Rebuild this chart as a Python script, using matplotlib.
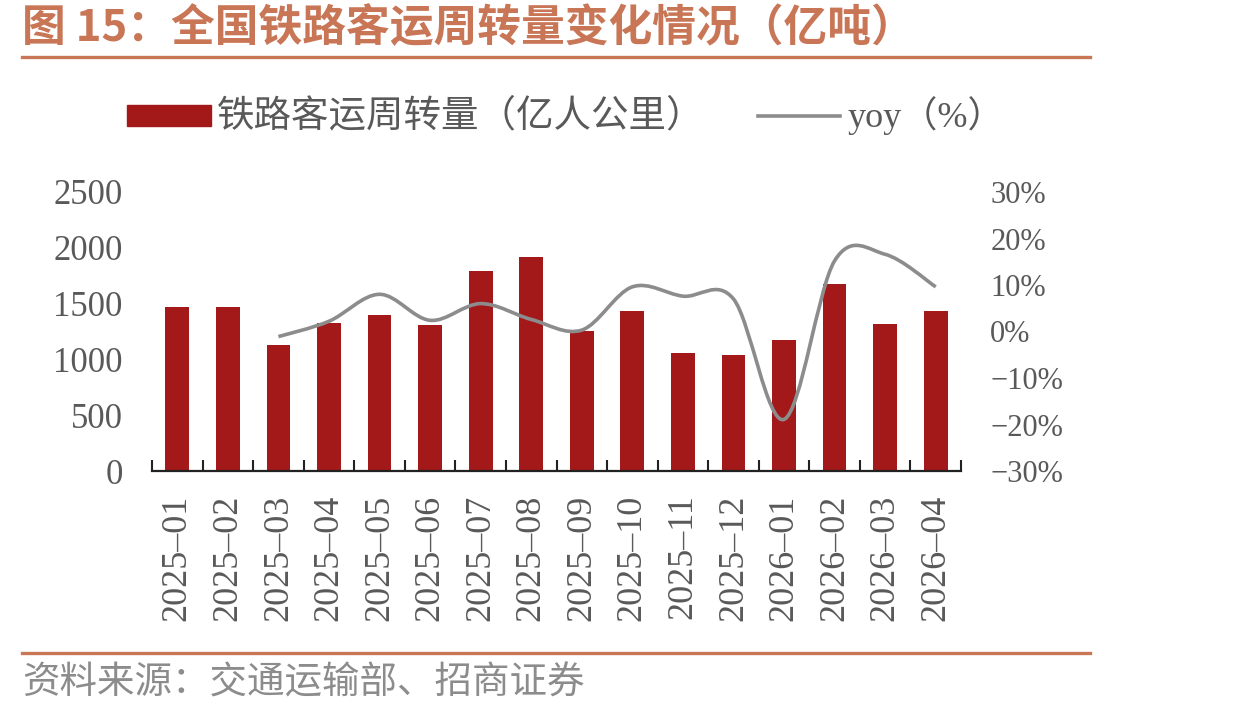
import matplotlib
matplotlib.use("Agg")
import matplotlib.pyplot as plt
import numpy as np
from matplotlib.path import Path
from matplotlib.patches import PathPatch, Rectangle
from matplotlib.lines import Line2D

months = ["2025-01", "2025-02", "2025-03", "2025-04", "2025-05", "2025-06",
          "2025-07", "2025-08", "2025-09", "2025-10", "2025-11", "2025-12",
          "2026-01", "2026-02", "2026-03", "2026-04"]
turnover = [1466, 1466, 1125, 1326, 1394, 1308, 1789, 1918,
            1251, 1430, 1056, 1035, 1176, 1679, 1320, 1430]
# yoy starts from 2025-03
yoy_start = 2
yoy = [-1.1, 2.2, 8.0, 2.4, 6.0, 2.6, 0.3, 9.6, 7.6, 7.0, -18.9, 15.2, 16.6, 9.6]

left_ticks = [0, 500, 1000, 1500, 2000, 2500]
right_ticks = [-30, -20, -10, 0, 10, 20, 30]

CJK = "Noto Sans CJK SC"
plt.rcParams["font.family"] = ["Liberation Serif", CJK]

bar_color = "#A31818"
line_color = "#8C8C8C"
text_gray = "#595959"
rule_color = "#C87656"

W, H = 1247, 714
fig = plt.figure(figsize=(W / 100, H / 100), dpi=100)

def fx(px):
    return px / W

def fy(py):
    return 1 - py / H

ax = fig.add_axes([fx(152), fy(471), fx(961 - 152), (471 - 192) / H])
x = np.arange(len(months))
ax.bar(x, turnover, width=0.47, color=bar_color, zorder=2)
ax.set_xlim(-0.5, len(months) - 0.5)
ax.set_ylim(0, 2500)
ax.set_yticks(left_ticks)
ax.set_yticklabels([str(v) for v in left_ticks], fontsize=25, color=text_gray)
ax.set_xticks(x)
ax.set_xticklabels([m.replace("-", "–") for m in months], rotation=90,
                   fontsize=26, color=text_gray)
ax.set_xticks(np.arange(-0.5, len(months), 1), minor=True)
ax.tick_params(axis="x", which="major", length=0, pad=17)
ax.tick_params(axis="x", which="minor", direction="in", length=8, width=1.5, color="#222222")
ax.tick_params(axis="y", length=0, pad=21)
for s in ["left", "right", "top"]:
    ax.spines[s].set_visible(False)
ax.spines["bottom"].set_linewidth(1.6)
ax.spines["bottom"].set_color("#222222")

ax2 = ax.twinx()
ax2.set_ylim(-30, 30)
ax2.set_yticks(right_ticks)
ax2.set_yticklabels([f"{v}%".replace("-", "−") for v in right_ticks], fontsize=22, color=text_gray)
ax2.tick_params(axis="y", length=0, pad=21)
for s in ax2.spines.values():
    s.set_visible(False)

# smoothed yoy line (Excel-style cubic Bezier through the points)
pts = np.column_stack([x[yoy_start:], yoy]).astype(float)
ext = np.vstack([pts[0], pts, pts[-1]])
verts = [pts[0]]
codes = [Path.MOVETO]
for i in range(len(pts) - 1):
    p0, p1, p2, p3 = ext[i], ext[i + 1], ext[i + 2], ext[i + 3]
    verts += [p1 + (p2 - p0) / 6, p2 - (p3 - p1) / 6, p2]
    codes += [Path.CURVE4] * 3
ax2.add_patch(PathPatch(Path(verts, codes), fill=False, edgecolor=line_color,
                        lw=2.6, capstyle="butt", joinstyle="round"))

# title and rules
fig.text(fx(22), fy(28), "图 15：全国铁路客运周转量变化情况（亿吨）", family=CJK,
         fontsize=31.5, fontweight="bold", color=rule_color, va="center", ha="left")
fig.add_artist(Line2D([fx(22), fx(1090)], [fy(57), fy(57)], color=rule_color, lw=2.4))
fig.add_artist(Line2D([fx(22), fx(1090)], [fy(653), fy(653)], color=rule_color, lw=2.4))
fig.text(fx(22), fy(683), "资料来源：交通运输部、招商证券", family=CJK,
         fontsize=27, color="#8C8C8C", va="center", ha="left")

# legend
fig.add_artist(Rectangle((fx(127), fy(126)), fx(84), 21 / H, color=bar_color))
fig.text(fx(217), fy(116), "铁路客运周转量（亿人公里）", family=CJK,
         fontsize=27, color=text_gray, va="center", ha="left")
fig.add_artist(Line2D([fx(758), fx(840)], [fy(116), fy(116)], color=line_color, lw=2.6))
fig.text(fx(847), fy(116), "yoy（%）", family=["Liberation Serif", CJK],
         fontsize=26, color=text_gray, va="center", ha="left")

fig.savefig("out.png", dpi=100)
